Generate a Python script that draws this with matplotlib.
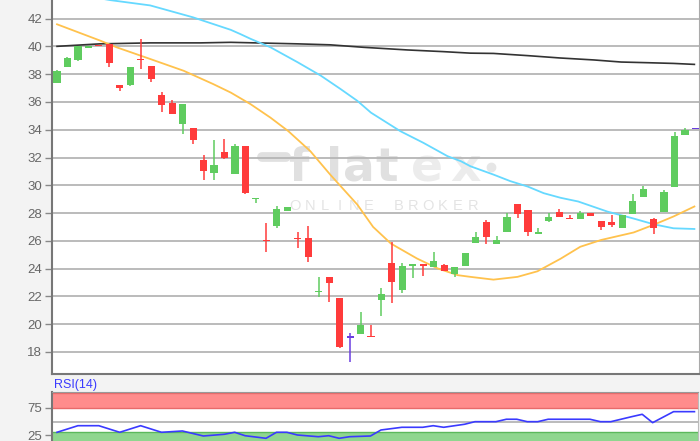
import matplotlib.pyplot as plt

plt.rcParams['font.family'] = ['Liberation Sans', 'DejaVu Sans']

# daily candles, index 0..61
opens = [37.4, 38.5, 39.0, 39.9, 40.1, 40.2, 37.2, 37.2, 39.1, 38.6,
         36.5, 35.96, 34.44, 34.15, 31.85, 30.9, 32.4, 30.8, 32.8, 29.0,
         26.05, 27.06, 28.17, 26.2, 26.17, 22.3, 23.36, 21.85, 19.05, 19.27,
         19.1, 21.72, 24.37, 22.45, 24.2, 24.25, 24.08, 24.25, 23.6, 24.18,
         25.81, 27.38, 25.76, 26.6, 28.65, 28.22, 26.46, 27.45, 28.05, 27.58,
         27.54, 27.98, 27.45, 27.38, 26.89, 27.9, 29.13, 27.54, 28.05, 29.9,
         33.63, 34.03]
highs = [38.3, 39.22, 40.02, 40.05, 40.12, 40.2, 37.22, 38.55, 40.55, 38.6,
         36.7, 36.13, 35.84, 34.15, 32.2, 33.23, 33.3, 33.0, 32.8, 29.05,
         27.3, 28.5, 28.45, 26.6, 27.09, 23.36, 23.36, 21.85, 19.32, 20.84,
         19.92, 22.62, 25.93, 24.37, 24.25, 24.25, 25.16, 24.3, 24.08, 25.14,
         26.65, 27.5, 26.34, 28.02, 28.65, 28.22, 26.89, 27.98, 28.26, 27.86,
         28.15, 27.98, 27.45, 27.86, 27.86, 29.37, 29.95, 27.62, 29.66, 33.83,
         34.12, 34.03]
lows = [37.4, 38.5, 38.98, 39.9, 40.0, 38.5, 36.8, 37.17, 38.38, 37.46,
        35.3, 35.1, 33.67, 32.94, 30.4, 30.4, 31.86, 30.8, 29.36, 28.75,
        25.2, 26.94, 28.15, 25.45, 24.44, 21.92, 21.56, 18.3, 17.23, 19.27,
        19.05, 20.57, 21.53, 22.25, 23.3, 23.48, 24.08, 23.84, 23.41, 24.18,
        25.81, 25.76, 25.76, 26.6, 27.62, 26.34, 26.46, 27.33, 27.74, 27.55,
        27.54, 27.81, 26.77, 26.97, 26.89, 27.9, 29.13, 26.49, 28.05, 29.9,
        33.63, 34.03]
closes = [38.25, 39.2, 40.0, 40.02, 40.0, 38.8, 37.0, 38.55, 39.0, 37.65,
          35.77, 35.1, 35.84, 33.23, 31.0, 31.45, 32.0, 32.85, 29.45, 29.05,
          25.95, 28.29, 28.4, 26.1, 24.8, 22.35, 22.93, 18.36, 19.0, 19.92,
          19.05, 22.2, 23.05, 24.18, 24.25, 24.2, 24.56, 23.84, 24.08, 25.14,
          26.25, 26.25, 26.05, 27.74, 27.9, 26.65, 26.65, 27.74, 27.74, 27.55,
          28.02, 27.81, 27.01, 27.13, 27.86, 28.89, 29.71, 26.89, 29.49, 33.56,
          34.0, 34.03]
purple_idx = [28, 61]

# moving averages (index position, value)
ma_short_x = [0, 4.1, 5.7, 8.9, 12.1, 14.9, 16.6, 18.5, 20.4, 22.1, 24.2, 26.1,
              28.7, 30.2, 31.9, 34.4, 36.4, 38.3, 39.5, 41.7, 44.0, 45.9, 48.1,
              50.0, 52.0, 55.1, 57.0, 58.9, 60.9]
ma_short = [41.6, 40.43, 39.94, 39.1, 38.25, 37.3, 36.68, 35.84, 34.87, 33.9,
            32.46, 30.77, 28.6, 27.0, 25.8, 24.72, 24.0, 23.52, 23.4, 23.2,
            23.4, 23.8, 24.7, 25.57, 26.06, 26.6, 27.15, 27.75, 28.47]
ma_mid_x = [0, 5.1, 8.9, 13.0, 16.6, 17.5, 18.5, 20.4, 23.0, 25.2, 27.1, 28.7,
            30.0, 32.8, 35.0, 37.3, 38.6, 39.5, 41.7, 43.3, 45.0, 46.5, 48.1,
            49.8, 52.6, 55.1, 57.0, 58.9, 60.9]
ma_mid = [44.0, 43.34, 42.96, 42.1, 41.2, 40.9, 40.55, 39.94, 38.86, 37.9,
          36.93, 36.08, 35.23, 33.9, 33.06, 32.1, 31.73, 31.37, 30.77, 30.3,
          29.9, 29.43, 29.1, 28.83, 28.1, 27.6, 27.19, 26.9, 26.85]
ma_long_x = [0, 4.1, 8.9, 13.7, 16.6, 23.0, 26.1, 29.3, 33.5, 36.9, 39.5, 41.7,
             45.0, 48.1, 51.3, 53.9, 56.5, 58.9, 60.9]
ma_long = [40.01, 40.19, 40.26, 40.26, 40.3, 40.19, 40.12, 39.94, 39.75, 39.63,
           39.52, 39.5, 39.34, 39.17, 39.03, 38.88, 38.83, 38.78, 38.71]

# RSI(14)
rsi_x = [0, 2, 4, 6, 8, 10, 12, 14, 16, 17, 18, 20, 21, 22, 23, 25, 26, 27, 28,
         30, 31, 33, 35, 36, 37, 39, 40, 42, 43, 44, 45, 46, 47, 51, 52, 53,
         55, 56, 57, 59, 61]
rsi = [30.8, 42.8, 42.8, 30.8, 42.8, 30.8, 33.2, 24.1, 27.2, 30.8, 24.6, 19.9,
       30.8, 30.8, 25.9, 22.8, 24.6, 19.9, 22.8, 24.1, 35.0, 39.9, 39.9, 42.8,
       39.9, 45.4, 50.1, 50.1, 54.5, 54.5, 50.1, 50.1, 54.5, 54.5, 50.1, 50.1,
       59.2, 63.5, 48.3, 68.3, 68.3]

price_ticks = list(range(18, 43, 2))
rsi_ticks = [25, 75]

W, H = 700, 441
fig = plt.figure(figsize=(7, 4.41), dpi=100, facecolor='#f3f3f3')
ax = fig.add_axes([52 / W, 67 / H, 647 / W, 374 / H])
ax.set_facecolor('white')

x0, x1 = -0.48, 61.34
ax.set_xlim(x0, x1)
ax.set_ylim(16.4, 43.35)
ax.set_yticks(price_ticks)
ax.set_xticks([])
ax.set_axisbelow(True)
ax.yaxis.grid(True, color='#b5b5b5', lw=1.3)
ax.tick_params(axis='y', length=5, width=1, color='#888888',
               labelcolor='#666666', labelsize=9.5, pad=2)
for s in ['left', 'bottom']:
    ax.spines[s].set_color('#777777')
    ax.spines[s].set_linewidth(1.5)
ax.spines['right'].set_color('#aaaaaa')
ax.spines['top'].set_visible(False)

# watermark
wm_letters = ['f', 'l', 'a', 't', 'e', 'x']
wm_pos = [298, 334, 359, 387, 427, 466]
for ch, px in zip(wm_letters, wm_pos):
    col = '#e0e0e0' if ch in 'flat' else '#ececec'
    ax.text(px / W, 1 - 181 / H, ch, transform=fig.transFigure, ha='center',
            va='baseline', fontsize=34, fontweight='bold', color=col,
            family='DejaVu Sans', zorder=0.2)
ax.plot([262 / W, 286 / W], [1 - 157 / H] * 2, transform=fig.transFigure,
        color='#e0e0e0', lw=7, solid_capstyle='round', zorder=0.2)
ax.plot([491 / W], [1 - 167 / H], 'o', transform=fig.transFigure,
        color='#e6e6e6', ms=6, zorder=0.2)
sub = 'ONLINE BROKER'
for i, ch in enumerate(sub):
    ax.text((295 + i * 14.8) / W, 1 - 206 / H, ch, transform=fig.transFigure,
            ha='center', va='center', fontsize=10.5, color='#e4e4e4',
            zorder=0.2)

# moving averages
ax.plot(ma_long_x, ma_long, color='#333333', lw=1.2, zorder=2)
ax.plot(ma_mid_x, ma_mid, color='#66d9ff', lw=1.3, zorder=2)
ax.plot(ma_short_x, ma_short, color='#ffc24d', lw=1.3, zorder=2)

# candles
bw = 0.68
for i in range(len(opens)):
    o, h, l, c = opens[i], highs[i], lows[i], closes[i]
    if i in purple_idx:
        col = '#6a3de0'
    elif c >= o:
        col = '#5fcc5f'
    else:
        col = '#ff3b3b'
    ax.vlines(i, l, h, color=col, lw=1.1, zorder=3)
    lo = min(o, c)
    hgt = max(abs(c - o), 0.11)
    ax.bar(i, hgt, bottom=lo, width=bw, color=col, lw=0, zorder=3)

# RSI panel
ax2 = fig.add_axes([52 / W, 0, 646 / W, 49 / H])
ax2.set_facecolor('white')
ax2.set_xlim(x0, x1)
ax2.set_ylim(15, 104)
ax2.axhspan(74.5, 104, color='#ff8c8c', lw=0, zorder=0)
ax2.axhline(74.5, color='#e86a6a', lw=1, zorder=0.5)
ax2.axhline(102.5, color='#e86a6a', lw=1, zorder=0.5)
ax2.axhspan(15, 31.5, color='#8fd68f', lw=0, zorder=0)
ax2.axhline(31.5, color='#5cb85c', lw=1, zorder=0.5)
ax2.axhline(50, color='#b5b5b5', lw=1.3, zorder=0.5)
ax2.plot(rsi_x, rsi, color='#3a3aff', lw=1.2, zorder=2)
ax2.set_yticks(rsi_ticks)
ax2.set_xticks([])
ax2.tick_params(axis='y', length=5, width=1, color='#888888',
                labelcolor='#666666', labelsize=9.5, pad=2)
ax2.spines['left'].set_color('#777777')
ax2.spines['left'].set_linewidth(1.5)
ax2.spines['top'].set_color('#999999')
ax2.spines['right'].set_color('#bbbbbb')
ax2.spines['bottom'].set_visible(False)

fig.text(54 / W, 1 - 385 / H, 'RSI(14)', color='#3a3aff', fontsize=9,
         ha='left', va='center')

fig.savefig('out.png', dpi=100, facecolor=fig.get_facecolor())
